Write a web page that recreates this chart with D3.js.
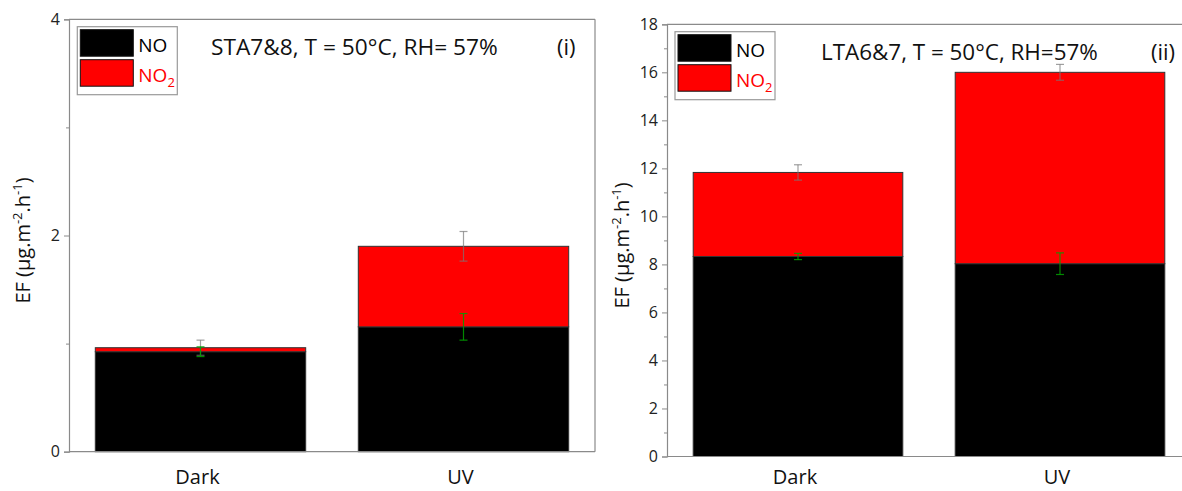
<!DOCTYPE html>
<html>
<head>
<meta charset="utf-8">
<script src="https://cdn.jsdelivr.net/npm/d3@7"></script>
<style>
  html, body { margin: 0; padding: 0; background: #fff; }
  svg text { font-family: "Open Sans", "Noto Sans", sans-serif; }
</style>
</head>
<body>
<svg id="chart" width="1182" height="491"></svg>
<script>
// ---------- data ----------
const categories = ["Dark", "UV"];
const seriesNames = ["NO", "NO2"];

// panel (i): STA7&8
const staNO = [0.925, 1.155];
const staNO2 = [0.037, 0.745];
const staNOErr = [0.045, 0.123];
const staTotalErr = [0.07, 0.137];
const staTicks = [0, 2, 4];
const staMinorTicks = [1, 3];

// panel (ii): LTA6&7
const ltaNO = [8.33, 8.03];
const ltaNO2 = [3.50, 7.97];
const ltaNOErr = [0.13, 0.45];
const ltaTotalErr = [0.32, 0.33];
const ltaTicks = [0, 2, 4, 6, 8, 10, 12, 14, 16, 18];
const ltaMinorTicks = [1, 3, 5, 7, 9, 11, 13, 15, 17];

const svg = d3.select("#chart");
const axisColor = "#8a8a8a";

function drawPanel(p) {
  const g = svg.append("g");
  const x = d3.scaleBand().domain(categories).range([p.left, p.right]).paddingInner(0.2).paddingOuter(0.1);
  const y = d3.scaleLinear().domain(p.domain).range([p.bottom, p.top]);

  // frame (top & right)
  g.append("line").attr("x1", p.left).attr("x2", p.right).attr("y1", p.top).attr("y2", p.top)
    .attr("stroke", axisColor).attr("stroke-width", 1.2);
  g.append("line").attr("x1", p.right).attr("x2", p.right).attr("y1", p.top).attr("y2", p.bottom)
    .attr("stroke", axisColor).attr("stroke-width", 1.2);

  // bars
  const stackData = categories.map((c, i) => ({cat: c, NO: p.no[i], NO2: p.no2[i]}));
  const stacked = d3.stack().keys(seriesNames)(stackData);
  const colors = {NO: "#000000", NO2: "#ff0000"};
  stacked.forEach(layer => {
    g.selectAll(null).data(layer).enter().append("rect")
      .attr("x", d => x(d.data.cat))
      .attr("width", x.bandwidth())
      .attr("y", d => y(d[1]))
      .attr("height", d => y(d[0]) - y(d[1]))
      .attr("fill", colors[layer.key])
      .attr("stroke", "#333")
      .attr("stroke-width", 1);
  });

  // error bars
  function errBar(cx, cy, e, color, op) {
    const cap = 4;
    const eg = g.append("g").attr("stroke", color).attr("stroke-opacity", op).attr("stroke-width", 1.2);
    eg.append("line").attr("x1", cx).attr("x2", cx).attr("y1", y(cy + e)).attr("y2", y(cy - e));
    eg.append("line").attr("x1", cx - cap).attr("x2", cx + cap).attr("y1", y(cy + e)).attr("y2", y(cy + e));
    eg.append("line").attr("x1", cx - cap).attr("x2", cx + cap).attr("y1", y(cy - e)).attr("y2", y(cy - e));
  }
  categories.forEach((c, i) => {
    const cx = x(c) + x.bandwidth() / 2;
    errBar(cx, p.no[i] + p.no2[i], p.totalErr[i], "#777", 0.7);
    errBar(cx, p.no[i], p.noErr[i], "#00a000", 0.85);
  });

  // y axis
  const yAxis = d3.axisLeft(y).tickValues(p.ticks).tickSize(5).tickPadding(4).tickFormat(d3.format("d"));
  const ya = g.append("g").attr("transform", `translate(${p.left},0)`).call(yAxis);
  ya.select(".domain").attr("stroke", axisColor).attr("stroke-width", 1.2);
  ya.selectAll(".tick line").attr("stroke", axisColor);
  ya.selectAll(".tick text").attr("font-size", 16).attr("fill", "#222");
  const yMinor = d3.axisLeft(y).tickValues(p.minor).tickSize(3).tickFormat("");
  const ym = g.append("g").attr("transform", `translate(${p.left},0)`).call(yMinor);
  ym.select(".domain").remove();
  ym.selectAll(".tick line").attr("stroke", axisColor);

  // x axis
  const xAxis = d3.axisBottom(x).tickSize(0).tickFormat("");
  const xa = g.append("g").attr("transform", `translate(0,${p.bottom})`).call(xAxis);
  xa.select(".domain").attr("stroke", axisColor).attr("stroke-width", 1.2).attr("d", `M${p.left},0H${p.right}`);
  g.selectAll(null).data(categories).enter().append("text")
    .attr("x", d => x(d) + x.bandwidth() / 2 - 3)
    .attr("y", p.xlabelY)
    .attr("text-anchor", "middle").attr("font-size", 20).attr("fill", "#111")
    .text(d => d);

  // y label
  const yl = g.append("text")
    .attr("transform", `translate(${p.ylabelX},${(p.top + p.bottom) / 2 + 5}) rotate(-90)`)
    .attr("text-anchor", "middle").attr("font-size", 20).attr("fill", "#111");
  yl.append("tspan").text("EF (µg.m");
  yl.append("tspan").attr("font-size", 13).attr("dy", -8).text("-2");
  yl.append("tspan").attr("dy", 8).text(".h");
  yl.append("tspan").attr("font-size", 13).attr("dy", -8).text("-1");
  yl.append("tspan").attr("dy", 8).text(")");

  // title
  const t = g.append("text").attr("x", p.titleX).attr("y", p.titleY)
    .attr("font-size", 22).attr("fill", "#111").text(p.title);
  const w = t.node().getComputedTextLength();
  t.attr("font-size", 22 * p.titleW / w);
  g.append("text").attr("x", p.tagX).attr("y", p.titleY).attr("font-size", 22).attr("fill", "#111").text(p.tag);

  // legend
  const L = p.legend;
  g.append("rect").attr("x", L.x).attr("y", L.y).attr("width", 100).attr("height", 68)
    .attr("fill", "#fff").attr("stroke", "#999").attr("stroke-width", 1.2);
  seriesNames.forEach((s, i) => {
    g.append("rect").attr("x", L.x + 3).attr("y", L.y + 3 + i * 30).attr("width", 53).attr("height", 26.5)
      .attr("fill", colors[s]).attr("stroke", "#111").attr("stroke-width", 1);
    const tx = g.append("text").attr("x", L.x + 61).attr("y", L.y + 25 + i * 30)
      .attr("font-size", 19).attr("fill", s === "NO" ? "#000" : "#ff0000");
    tx.append("tspan").text("NO");
    if (s === "NO2") tx.append("tspan").attr("font-size", 13).attr("dy", 5).text("2");
  });
}

drawPanel({
  left: 69, right: 595, top: 19.3, bottom: 451.7, domain: [0, 4],
  no: staNO, no2: staNO2, noErr: staNOErr, totalErr: staTotalErr,
  ticks: staTicks, minor: staMinorTicks, xlabelY: 484,
  ylabelX: 30, title: "STA7&8, T = 50°C, RH= 57%", titleX: 211, titleY: 55, titleW: 287,
  tag: "(i)", tagX: 557, legend: {x: 77.3, y: 26.7}
});
drawPanel({
  left: 667, right: 1191, top: 24.3, bottom: 456.5, domain: [0, 18],
  no: ltaNO, no2: ltaNO2, noErr: ltaNOErr, totalErr: ltaTotalErr,
  ticks: ltaTicks, minor: ltaMinorTicks, xlabelY: 484,
  ylabelX: 629, title: "LTA6&7, T = 50°C, RH=57%", titleX: 821, titleY: 60, titleW: 277,
  tag: "(ii)", tagX: 1151, legend: {x: 675, y: 31.7}
});
</script>
</body>
</html>
